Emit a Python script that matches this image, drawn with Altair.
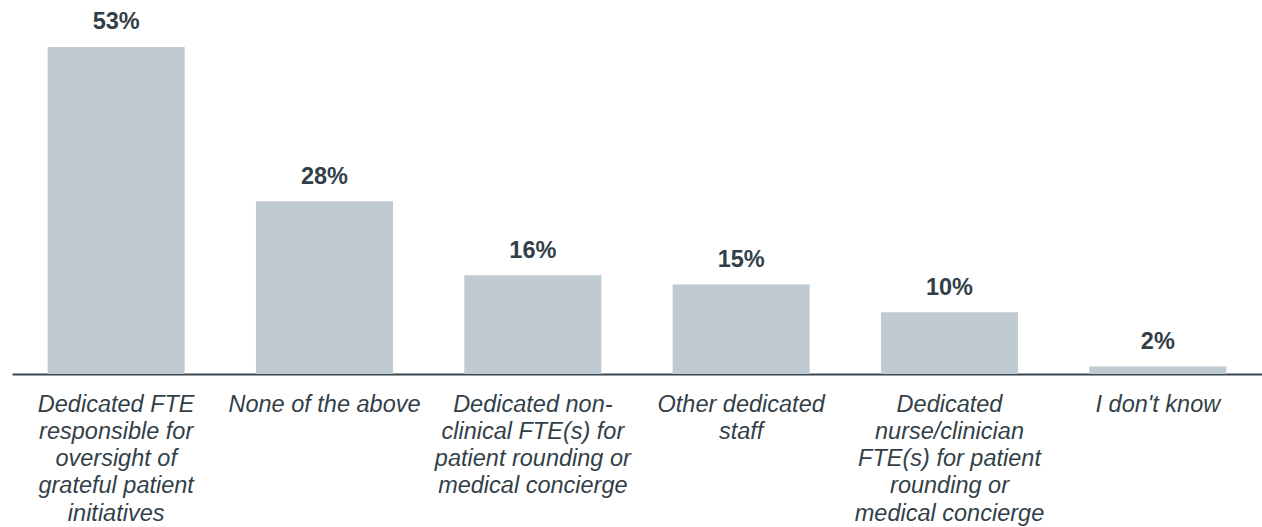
import altair as alt
import pandas as pd

categories = [
    "Dedicated FTE|responsible for|oversight of|grateful patient|initiatives",
    "None of the above",
    "Dedicated non-|clinical FTE(s) for|patient rounding or|medical concierge",
    "Other dedicated|staff",
    "Dedicated|nurse/clinician|FTE(s) for patient|rounding or|medical concierge",
    "I don't know",
]
values = [53, 28, 16, 14.5, 10, 1.2]
value_labels = ["53%", "28%", "16%", "15%", "10%", "2%"]

df = pd.DataFrame({"cat": categories, "val": values, "lab": value_labels})

FONT = "Liberation Sans"
TEXT_COLOR = "#333F48"
BAR_COLOR = "#BFCAD1"

x = alt.X(
    "cat:N",
    sort=categories,
    scale=alt.Scale(paddingInner=0.342, paddingOuter=0.171),
    axis=alt.Axis(
        title=None,
        labelAngle=0,
        labelExpr="split(datum.label, '|')",
        labelFont=FONT,
        labelFontSize=23.5,
        labelFontStyle="italic",
        labelLineHeight=27.3,
        labelColor=TEXT_COLOR,
        labelPadding=18,
        labelLimit=400,
        labelOverlap=False,
        ticks=False,
        domainColor="#3A4550",
        domainWidth=2,
        grid=False,
    ),
)
y = alt.Y(
    "val:Q",
    scale=alt.Scale(domain=[0, 60.6], nice=False, zero=True),
    axis=None,
)

bars = alt.Chart(df).mark_bar(color=BAR_COLOR).encode(x=x, y=y)
texts = alt.Chart(df).mark_text(
    font=FONT,
    fontSize=23.5,
    fontWeight="bold",
    color=TEXT_COLOR,
    baseline="alphabetic",
    dy=-17.5,
).encode(x=x, y=y, text="lab:N")

chart = (
    alt.layer(bars, texts)
    .properties(
        width=1250,
        height=374,
        padding={"left": 12, "top": 0, "right": 0, "bottom": 153},
        autosize=alt.AutoSizeParams(type="none"),
        background="white",
    )
    .configure_view(strokeWidth=0, stroke="transparent")
)

chart.save("out.html", embed_options={"renderer": "svg", "actions": False})
